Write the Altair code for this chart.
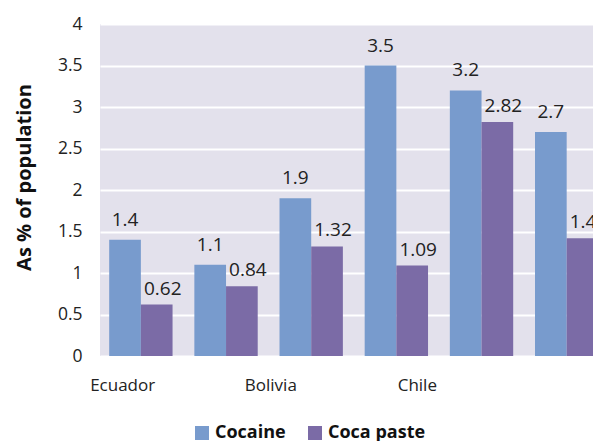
import altair as alt
import pandas as pd

# ---- data ----
series = ["Cocaine", "Coca paste"]
cocaine = [1.4, 1.1, 1.9, 3.5, 3.2, 2.7]
coca_paste = [0.62, 0.84, 1.32, 1.09, 2.82, 1.42]
group_index = [0, 1, 2, 3, 4, 5]
country_labels = ["Ecuador", "Bolivia", "Chile"]
country_label_at = [0.28, 2.02, 3.74]
y_ticks = [0, 0.5, 1, 1.5, 2, 2.5, 3, 3.5, 4]

rows = []
for g, c, p in zip(group_index, cocaine, coca_paste):
    rows.append({"group": g, "series": series[0], "value": c})
    rows.append({"group": g, "series": series[1], "value": p})
df = pd.DataFrame(rows)

BAR_W = 0.372  # width of one bar in group units
FONT = "Open Sans"
colors = ["#789BCD", "#7B6BA6"]
PLOT_W = 493
PLOT_H = 332

label_map = "{" + ",".join(f"'{a}':'{b}'" for a, b in zip(country_label_at, country_labels)) + "}"

x_scale = alt.Scale(domain=[0.02, 0.02 + PLOT_W / 85.16], nice=False, zero=False)
y_scale = alt.Scale(domain=[0, 4], nice=False)

base = alt.Chart(df).transform_calculate(
    x0=f"datum.group + 0.5 - (datum.series == '{series[0]}' ? {BAR_W} : 0)",
    x1=f"datum.group + 0.5 + (datum.series == '{series[0]}' ? 0 : {BAR_W})",
    xm=f"datum.group + 0.5 + (datum.series == '{series[0]}' ? -{BAR_W/2} : {BAR_W/2})",
)

bars = base.mark_bar(clip=True).encode(
    x=alt.X(
        "x0:Q",
        scale=x_scale,
        axis=alt.Axis(
            values=country_label_at,
            labelExpr=f"{label_map}[datum.value] || ''",
            title=None,
            grid=False,
            ticks=False,
            domain=False,
            labelFont=FONT,
            labelFontSize=17,
            labelColor="#222222",
            labelPadding=21,
        ),
    ),
    x2="x1:Q",
    y=alt.Y(
        "value:Q",
        scale=y_scale,
        axis=alt.Axis(
            values=y_ticks,
            format="~g",
            title="As % of population",
            titleFont=FONT,
            titleFontSize=20,
            titleFontWeight="bold",
            titleColor="#111111",
            titleAngle=270,
            titleX=-70,
            titleY=153,
            titleAlign="center",
            titleBaseline="alphabetic",
            grid=True,
            gridColor="#FFFFFF",
            gridWidth=2,
            ticks=False,
            domain=False,
            labelFont=FONT,
            labelFontSize=17.5,
            labelColor="#222222",
            labelPadding=18,
        ),
    ),
    y2=alt.datum(0),
    color=alt.Color(
        "series:N",
        scale=alt.Scale(domain=series, range=colors),
        legend=alt.Legend(
            title=None,
            orient="none",
            direction="horizontal",
            legendX=93,
            legendY=400,
            symbolType="square",
            symbolSize=196,
            symbolStrokeWidth=0,
            symbolOpacity=1,
            labelFont=FONT,
            labelFontSize=18,
            labelFontWeight="bold",
            labelColor="#111111",
            labelOffset=4,
            columnPadding=20,
            padding=0,
        ),
    ),
)

lab_c = base.transform_filter(f"datum.series == '{series[0]}'").mark_text(
    clip=True, font=FONT, fontSize=19, color="#222222", baseline="alphabetic", dy=-14
).encode(x=alt.X("xm:Q", scale=x_scale), y=alt.Y("value:Q", scale=y_scale), text=alt.Text("value:Q", format="~g"))

lab_p = base.transform_filter(f"datum.series == '{series[1]}'").mark_text(
    clip=True, font=FONT, fontSize=19, color="#222222", baseline="alphabetic", dy=-10, dx=6
).encode(x=alt.X("xm:Q", scale=x_scale), y=alt.Y("value:Q", scale=y_scale), text=alt.Text("value:Q", format="~g"))

chart = (
    alt.layer(bars, lab_c, lab_p)
    .properties(
        width=PLOT_W,
        height=PLOT_H,
        autosize=alt.AutoSizeParams(type="none"),
        padding={"left": 92, "top": 16, "right": 0, "bottom": 85},
        background="#FFFFFF",
    )
    .configure_view(fill="#E3E1EC", strokeWidth=0)
)

chart.save("out.html", embed_options={"renderer": "svg", "actions": False})
